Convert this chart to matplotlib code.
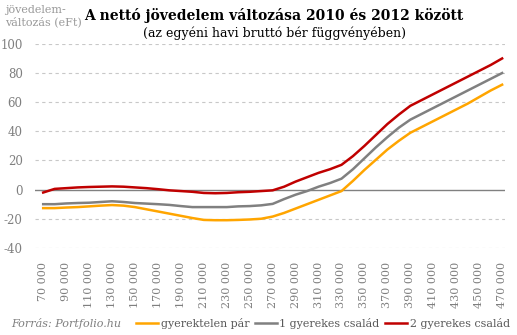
import matplotlib
matplotlib.use("Agg")
import matplotlib.pyplot as plt
import numpy as np

# havi bruttó bér (Ft)
ber = np.arange(70000, 470001, 10000)

gyerektelen = [-12.7, -12.7, -12.3, -12.0, -11.5, -11.0, -10.6, -11.0, -12.0, -13.5,
               -15.0, -16.5, -18.0, -19.5, -20.8, -21.0, -21.0, -20.8, -20.5, -20.0,
               -18.5, -16.0, -13.0, -10.0, -7.0, -4.0, -1.0, 6.0, 13.5, 20.5,
               27.5, 33.5, 39.0, 43.0, 47.0, 51.0, 55.0, 59.0, 63.5, 68.0, 72.0]
egy_gyerek = [-10.0, -10.0, -9.5, -9.2, -9.0, -8.5, -8.0, -8.5, -9.2, -9.6,
              -10.0, -10.5, -11.3, -12.0, -12.0, -12.0, -12.0, -11.5, -11.3, -10.8,
              -9.8, -6.5, -3.5, -1.0, 2.0, 4.5, 7.5, 14.0, 21.5, 29.0,
              36.0, 42.5, 48.0, 52.0, 56.0, 60.0, 64.0, 68.0, 72.0, 76.0, 80.0]
ket_gyerek = [-2.0, 0.5, 1.0, 1.5, 1.8, 2.0, 2.2, 2.0, 1.5, 1.0,
              0.3, -0.5, -1.0, -1.5, -2.3, -2.5, -2.3, -1.8, -1.5, -1.0,
              -0.5, 2.0, 5.5, 8.5, 11.5, 14.0, 17.0, 23.0, 30.0, 37.5,
              45.0, 51.5, 57.5, 61.5, 65.5, 69.5, 73.5, 77.5, 81.5, 85.5, 90.0]

xticks = np.arange(70000, 470001, 20000)
xlabels = [f"{v // 1000} 000" for v in xticks]
yticks = np.arange(-40, 101, 20)

serif = "DejaVu Serif"
szurke = "#7f7f7f"

fig = plt.figure(figsize=(5.17, 3.35), dpi=100)
ax = fig.add_axes([0.068, 0.26, 0.909, 0.609])

for y in yticks:
    if y != 0:
        ax.axhline(y, color="#c8c8c8", lw=0.8, ls=(0, (3, 3)), zorder=0)
ax.axhline(0, color="#808080", lw=1.0, zorder=1)

ax.plot(ber, gyerektelen, color="#ffa500", lw=1.8, label="gyerektelen pár")
ax.plot(ber, egy_gyerek, color="#808080", lw=1.8, label="1 gyerekes család")
ax.plot(ber, ket_gyerek, color="#c00000", lw=1.8, label="2 gyerekes család")

ax.set_xlim(63000, 472600)
ax.set_ylim(-40, 100)
ax.set_yticks(yticks)
ax.set_yticklabels([str(v) for v in yticks], family=serif, fontsize=8.5, color=szurke)
ax.set_xticks(xticks)
ax.set_xticklabels(xlabels, rotation=90, family=serif, fontsize=8, color=szurke)
ax.tick_params(axis="x", length=0, pad=10)
ax.tick_params(axis="y", length=0, pad=9)
for s in ax.spines.values():
    s.set_visible(False)

fig.text(0.53, 0.955, "A nettó jövedelem változása 2010 és 2012 között",
         ha="center", va="center", family=serif, fontweight="bold", fontsize=10)
fig.text(0.53, 0.90, "(az egyéni havi bruttó bér függvényében)",
         ha="center", va="center", family=serif, fontsize=9)
fig.text(0.01, 0.985, "jövedelem-\nváltozás (eFt)", ha="left", va="top",
         family=serif, fontsize=8, color="#999999", linespacing=1.2)
fig.text(0.022, 0.035, "Forrás: Portfolio.hu", ha="left", va="center",
         family=serif, style="italic", fontsize=8, color=szurke)

fig.legend(loc="center right", bbox_to_anchor=(0.995, 0.035), ncol=3, frameon=False,
           prop={"family": serif, "size": 7.9}, labelcolor="#595959",
           handlelength=2.0, handletextpad=0.25, columnspacing=0.5, borderaxespad=0)

fig.savefig("out.png", dpi=100)
